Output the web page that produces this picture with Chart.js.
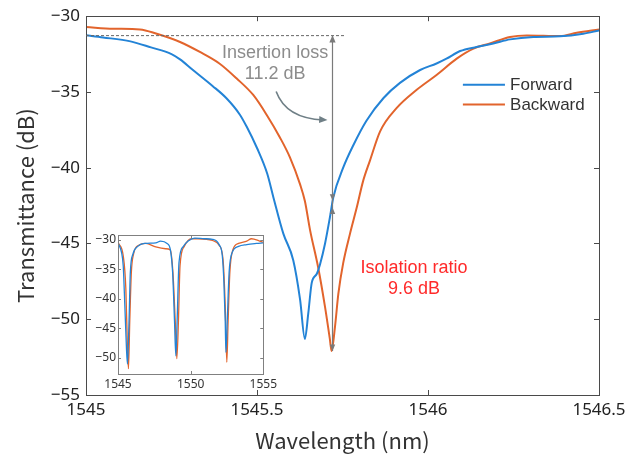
<!DOCTYPE html>
<html>
<head>
<meta charset="utf-8">
<title>Transmittance</title>
<script src="https://cdn.jsdelivr.net/npm/chart.js"></script>
<style>
  html, body { margin: 0; padding: 0; background: #fff; }
  #wrap { position: relative; width: 638px; height: 456px; }
  #mainChart { position: absolute; left: 0; top: 0; }
  #insetChart { position: absolute; left: 90px; top: 226px; }
</style>
</head>
<body>
<div id="wrap">
  <canvas id="mainChart" width="638" height="456"></canvas>
  <canvas id="insetChart" width="190" height="170"></canvas>
</div>
<script>
// --- Main spectrum: one resonance, 1545 - 1546.5 nm ---
const fwdWl = [1545.00, 1545.05, 1545.13, 1545.19, 1545.25, 1545.275, 1545.31, 1545.37, 1545.41, 1545.45,
  1545.47, 1545.50, 1545.53, 1545.548, 1545.577, 1545.606, 1545.626, 1545.64, 1545.65, 1545.66,
  1545.675, 1545.684, 1545.699, 1545.713, 1545.723, 1545.752, 1545.782, 1545.82, 1545.87, 1545.918,
  1545.977, 1546.025, 1546.054, 1546.094, 1546.142, 1546.191, 1546.24, 1546.308, 1546.386, 1546.454, 1546.50];
const fwdDb = [-31.26, -31.4, -31.66, -32.06, -32.5, -32.85, -33.5, -34.6, -35.4, -36.5,
  -37.3, -38.7, -40.4, -41.96, -44.35, -46.1, -48.7, -51.3, -49.6, -47.6,
  -47.0, -46.4, -45.0, -43.3, -41.96, -40.0, -38.5, -36.9, -35.4, -34.4,
  -33.55, -33.12, -32.8, -32.3, -32.03, -31.8, -31.53, -31.37, -31.33, -31.16, -30.94];

const bwdWl = [1545.00, 1545.08, 1545.158, 1545.207, 1545.275, 1545.333, 1545.39, 1545.44, 1545.489, 1545.528,
  1545.567, 1545.596, 1545.626, 1545.64, 1545.655, 1545.679, 1545.699, 1545.713, 1545.718, 1545.728,
  1545.738, 1545.752, 1545.772, 1545.792, 1545.81, 1545.83, 1545.86, 1545.908, 1545.967, 1546.025,
  1546.084, 1546.133, 1546.181, 1546.24, 1546.289, 1546.386, 1546.435, 1546.50];
const bwdDb = [-30.72, -30.83, -30.87, -31.16, -31.7, -32.36, -33.12, -34.1, -35.2, -36.5,
  -38.0, -39.3, -41.1, -42.2, -44.1, -46.6, -49.2, -51.3, -52.1, -50.5,
  -48.3, -46.3, -44.35, -42.6, -40.9, -39.55, -37.6, -36.07, -34.86, -33.88,
  -32.8, -32.14, -31.8, -31.37, -31.27, -31.31, -31.09, -30.87];

const mainXTicks = [1545, 1545.5, 1546, 1546.5];
const mainYTicks = [-55, -50, -45, -40, -35, -30];

// --- Inset: wide scan over three resonances, 1545 - 1555 nm ---
const insFwdWl = [1545.02, 1545.25, 1545.36, 1545.47, 1545.58, 1545.65, 1545.76, 1545.85, 1546.03, 1546.36,
  1546.81, 1547.6, 1547.93, 1548.38, 1548.6, 1548.76, 1548.89, 1548.98, 1549.07, 1549.2,
  1549.5, 1549.83, 1550.28, 1550.95, 1551.51, 1551.96, 1552.18, 1552.29, 1552.38, 1552.43,
  1552.52, 1552.65, 1552.85, 1553.3, 1553.86, 1554.53, 1554.98];
const insFwdDb = [-30.6, -32.2, -34.4, -41.1, -48.3, -51.1, -43.8, -35.5, -32.4, -31.1,
  -30.6, -30.5, -30.2, -30.6, -31.6, -35.5, -43.8, -49.7, -43.8, -33.8,
  -31.1, -30.2, -29.7, -29.8, -29.9, -30.8, -32.7, -37.2, -43.8, -49.1,
  -43.8, -35.5, -32.2, -31.1, -30.8, -30.6, -30.5];

const insBwdWl = [1545.02, 1545.36, 1545.54, 1545.65, 1545.72, 1545.81, 1545.92, 1546.07, 1546.43, 1546.92,
  1547.6, 1548.27, 1548.6, 1548.78, 1548.94, 1549.05, 1549.16, 1549.27, 1549.56, 1550.06,
  1550.5, 1551.51, 1551.96, 1552.23, 1552.38, 1552.49, 1552.58, 1552.7, 1552.92, 1553.3,
  1553.86, 1554.19, 1554.75, 1554.98];
const insBwdDb = [-30.5, -32.7, -38.3, -48.3, -51.9, -43.8, -35.5, -32.4, -30.9, -30.6,
  -31.2, -31.5, -31.7, -35.5, -43.8, -50.2, -43.8, -34.4, -31.1, -29.8,
  -29.8, -30.1, -30.9, -33.3, -41.1, -50.8, -43.8, -35.5, -31.6, -30.6,
  -30.2, -29.8, -30.2, -30.4];

const insXTicks = [1545, 1550, 1555];
const insYTicks = [-50, -45, -40, -35, -30];

// --- Annotation values (nm, dB) ---
const baselineDb = -31.25;
const baselineEndWl = 1545.757;
const markerWl = 1545.718;
const forwardAtMarkerDb = -42.5;
const backwardMinDb = -52.1;

const BLUE = '#2383d6';
const ORANGE = '#e2642c';
const TICK_FONT = '"Noto Sans", "Liberation Sans", sans-serif';
const AXIS_FONT = '"Noto Sans CJK JP", "Noto Sans", sans-serif';
const NOTE_FONT = '"Liberation Sans", Arial, sans-serif';

function toPoints(xs, ys) {
  return xs.map((x, i) => ({ x: x, y: ys[i] }));
}

// negative numbers get a real minus sign
function tickText(v) {
  return v < 0 ? '\u2212' + String(-v) : String(v);
}

// Box around the plot with short inward ticks on every side
function boxPlugin(color, tickLen) {
  return {
    id: 'box',
    beforeDatasetsDraw(chart) {
      const a = chart.chartArea;
      const ctx = chart.ctx;
      ctx.save();
      ctx.fillStyle = '#fff';
      ctx.fillRect(a.left, a.top, a.right - a.left, a.bottom - a.top);
      ctx.restore();
    },
    afterDatasetsDraw(chart) {
      const a = chart.chartArea;
      const ctx = chart.ctx;
      const xs = chart.scales.x, ys = chart.scales.y;
      ctx.save();
      ctx.strokeStyle = color;
      ctx.lineWidth = 1;
      ctx.beginPath();
      xs.ticks.forEach(t => {
        const px = Math.round(xs.getPixelForValue(t.value)) + 0.5;
        if (px <= a.left + 1 || px >= a.right - 1) return;
        ctx.moveTo(px, a.bottom); ctx.lineTo(px, a.bottom - tickLen);
        ctx.moveTo(px, a.top); ctx.lineTo(px, a.top + tickLen);
      });
      ys.ticks.forEach(t => {
        const py = Math.round(ys.getPixelForValue(t.value)) + 0.5;
        if (py <= a.top + 1 || py >= a.bottom - 1) return;
        ctx.moveTo(a.left, py); ctx.lineTo(a.left + tickLen, py);
        ctx.moveTo(a.right, py); ctx.lineTo(a.right - tickLen, py);
      });
      ctx.stroke();
      ctx.strokeRect(Math.round(a.left) + 0.5, Math.round(a.top) + 0.5,
        Math.round(a.right - a.left), Math.round(a.bottom - a.top));
      ctx.restore();
    }
  };
}

function arrowHead(ctx, x, y, angle, size) {
  ctx.beginPath();
  ctx.moveTo(x, y);
  ctx.lineTo(x - size * Math.cos(angle - 0.4), y - size * Math.sin(angle - 0.4));
  ctx.lineTo(x - size * Math.cos(angle + 0.4), y - size * Math.sin(angle + 0.4));
  ctx.closePath();
  ctx.fill();
}

// Insertion loss / isolation markers, text notes and legend
const notesPlugin = {
  id: 'notes',
  afterDatasetsDraw(chart) {
    const ctx = chart.ctx;
    const X = v => chart.scales.x.getPixelForValue(v);
    const Y = v => chart.scales.y.getPixelForValue(v);
    ctx.save();

    // dashed baseline
    ctx.strokeStyle = '#666';
    ctx.lineWidth = 1;
    ctx.setLineDash([3, 2]);
    ctx.beginPath();
    ctx.moveTo(X(1545), Y(baselineDb) + 0.5);
    ctx.lineTo(X(baselineEndWl), Y(baselineDb) + 0.5);
    ctx.stroke();
    ctx.setLineDash([]);

    // vertical marker with arrowheads
    const mx = Math.round(X(markerWl)) + 0.5;
    ctx.strokeStyle = '#7a7a7a';
    ctx.fillStyle = '#7a7a7a';
    ctx.lineWidth = 1.2;
    ctx.beginPath();
    ctx.moveTo(mx, Y(baselineDb));
    ctx.lineTo(mx, Y(backwardMinDb));
    ctx.stroke();
    arrowHead(ctx, mx, Y(baselineDb), -Math.PI / 2, 8);
    arrowHead(ctx, mx, Y(forwardAtMarkerDb) - 5, Math.PI / 2, 7);
    arrowHead(ctx, mx, Y(forwardAtMarkerDb) + 2, -Math.PI / 2, 7);
    arrowHead(ctx, mx, Y(backwardMinDb), Math.PI / 2, 7);

    // curved pointer from the insertion loss note
    const sx = X(1545.556), sy = Y(-34.97);
    const cx = X(1545.585), cy = Y(-36.75);
    const ex = X(1545.706), ey = Y(-36.85);
    ctx.strokeStyle = '#6f7f86';
    ctx.fillStyle = '#6f7f86';
    ctx.lineWidth = 1.6;
    ctx.beginPath();
    ctx.moveTo(sx, sy);
    ctx.quadraticCurveTo(cx, cy, ex - 4, ey);
    ctx.stroke();
    arrowHead(ctx, ex, ey, 0.05, 9);

    ctx.textAlign = 'center';
    ctx.textBaseline = 'middle';
    ctx.font = '18px ' + NOTE_FONT;
    ctx.fillStyle = '#8c8c8c';
    ctx.fillText('Insertion loss', X(1545.553), Y(-32.42));
    ctx.fillText('11.2 dB', X(1545.553), Y(-33.8));

    ctx.fillStyle = '#ff2a2a';
    ctx.fillText('Isolation ratio', X(1545.959), Y(-46.62));
    ctx.fillText('9.6 dB', X(1545.959), Y(-48.0));

    // legend
    const legend = [['Forward', BLUE, -34.52], ['Backward', ORANGE, -35.82]];
    ctx.textAlign = 'left';
    ctx.font = '17px ' + NOTE_FONT;
    legend.forEach(([name, color, db]) => {
      const ly = Y(db);
      ctx.strokeStyle = color;
      ctx.lineWidth = 2;
      ctx.beginPath();
      ctx.moveTo(X(1546.102), ly);
      ctx.lineTo(X(1546.225), ly);
      ctx.stroke();
      ctx.fillStyle = '#333';
      ctx.fillText(name, X(1546.24), ly + 1);
    });
    ctx.restore();
  }
};

const mainChart = new Chart(document.getElementById('mainChart'), {
  type: 'line',
  data: {
    datasets: [
      { label: 'Forward', data: toPoints(fwdWl, fwdDb), borderColor: BLUE, borderWidth: 2, pointRadius: 0,
        cubicInterpolationMode: 'monotone' },
      { label: 'Backward', data: toPoints(bwdWl, bwdDb), borderColor: ORANGE, borderWidth: 2, pointRadius: 0,
        cubicInterpolationMode: 'monotone' }
    ]
  },
  options: {
    responsive: false,
    animation: false,
    layout: { padding: { top: 14, right: 39, left: 0, bottom: 0 } },
    plugins: { legend: { display: false }, tooltip: { enabled: false } },
    scales: {
      x: {
        type: 'linear', min: 1545, max: 1546.5,
        afterBuildTicks: s => { s.ticks = mainXTicks.map(v => ({ value: v })); },
        afterFit: s => { s.height = 61; },
        grid: { display: false, drawTicks: false },
        border: { display: false },
        ticks: { color: '#222', font: { family: TICK_FONT, size: 17 }, padding: 5, maxRotation: 0,
          callback: tickText },
        title: { display: true, text: 'Wavelength (nm)', color: '#333',
          font: { family: AXIS_FONT, size: 22 }, padding: { top: 0, bottom: 2 } }
      },
      y: {
        type: 'linear', min: -55, max: -30,
        afterBuildTicks: s => { s.ticks = mainYTicks.map(v => ({ value: v })); },
        afterFit: s => { s.width = 86; },
        grid: { display: false, drawTicks: false },
        border: { display: false },
        ticks: { color: '#222', font: { family: TICK_FONT, size: 17 }, padding: 6,
          callback: tickText },
        title: { display: true, text: 'Transmittance (dB)', color: '#333',
          font: { family: AXIS_FONT, size: 22 }, padding: { top: 12, bottom: 0 } }
      }
    }
  },
  plugins: [boxPlugin('#4a4a4a', 5), notesPlugin]
});

const insetChart = new Chart(document.getElementById('insetChart'), {
  type: 'line',
  data: {
    datasets: [
      { label: 'Forward', data: toPoints(insFwdWl, insFwdDb), borderColor: BLUE, borderWidth: 1.3, pointRadius: 0,
        cubicInterpolationMode: 'monotone' },
      { label: 'Backward', data: toPoints(insBwdWl, insBwdDb), borderColor: ORANGE, borderWidth: 1.3, pointRadius: 0,
        cubicInterpolationMode: 'monotone' }
    ]
  },
  options: {
    responsive: false,
    animation: false,
    layout: { padding: { top: 6, right: 13, left: 0, bottom: 0 } },
    plugins: { legend: { display: false }, tooltip: { enabled: false } },
    scales: {
      x: {
        type: 'linear', min: 1545, max: 1555,
        afterBuildTicks: s => { s.ticks = insXTicks.map(v => ({ value: v })); },
        afterFit: s => { s.height = 22; },
        grid: { display: false, drawTicks: false },
        border: { display: false },
        ticks: { color: '#333', font: { family: TICK_FONT, size: 12 }, padding: 3, maxRotation: 0,
          callback: tickText },
        title: { display: false }
      },
      y: {
        type: 'linear', min: -52.8, max: -29.2,
        afterBuildTicks: s => { s.ticks = insYTicks.map(v => ({ value: v })); },
        afterFit: s => { s.width = 28; },
        grid: { display: false, drawTicks: false },
        border: { display: false },
        ticks: { color: '#333', font: { family: TICK_FONT, size: 12 }, padding: 2,
          callback: tickText },
        title: { display: false }
      }
    }
  },
  plugins: [boxPlugin('#808080', 3)]
});
</script>
</body>
</html>
